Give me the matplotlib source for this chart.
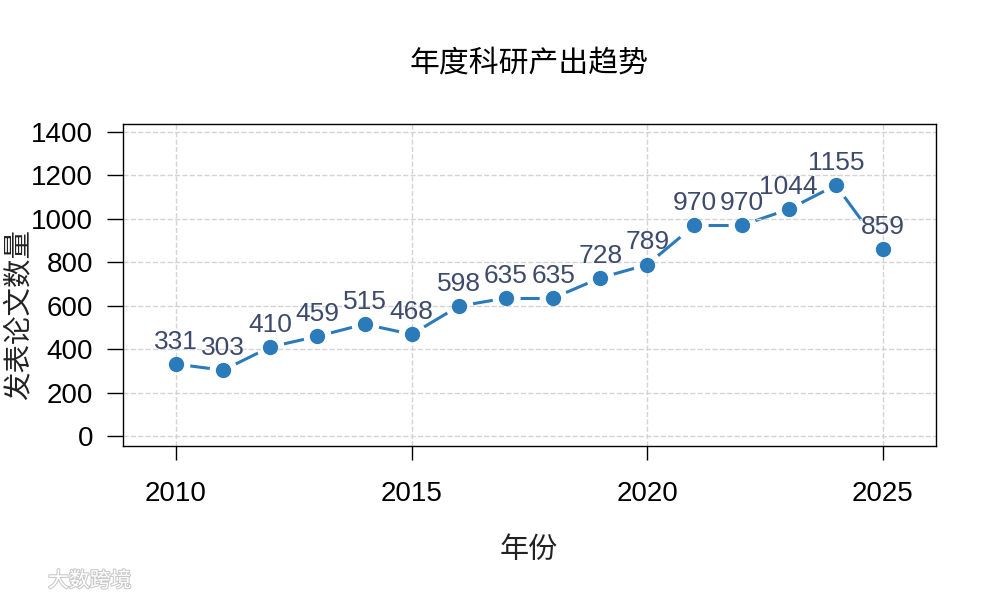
import matplotlib
matplotlib.use('Agg')
import matplotlib.pyplot as plt
import matplotlib.patheffects as pe

plt.rcParams['font.family'] = ['Liberation Sans', 'Noto Sans CJK SC', 'DejaVu Sans']

# Data
years = list(range(2010, 2026))
papers = [331, 303, 410, 459, 515, 468, 598, 635, 635, 728, 789, 970, 970, 1044, 1155, 859]
x_ticks = [2010, 2015, 2020, 2025]
y_ticks = [0, 200, 400, 600, 800, 1000, 1200, 1400]

line_color = '#2b7bba'
label_color = '#3d4a6b'

fig = plt.figure(figsize=(10, 6), dpi=100)
ax = fig.add_axes([0.123, 0.2567, 0.813, 0.5367])

# Dashed segments restarting at each point (like R type="b", lty=2)
lw = 2.2
gap = 10.0      # pt hidden around each point
on, off = 21.0, 40.0
dash = (( on + off - gap) / lw, (on / lw, off / lw))
for i in range(len(years) - 1):
    ax.plot(years[i:i + 2], papers[i:i + 2], color=line_color, linewidth=lw,
            linestyle=dash, solid_capstyle='butt', zorder=2)

# White ring leaves the gap, then the filled points
ax.plot(years, papers, linestyle='none', marker='o', markersize=10,
        markerfacecolor='white', markeredgecolor='white', markeredgewidth=10, zorder=2.5)
ax.plot(years, papers, linestyle='none', marker='o', markersize=10,
        color=line_color, zorder=3)

# Value labels
for x, y in zip(years, papers):
    ax.annotate(str(y), (x, y), xytext=(0, 16), textcoords='offset points',
                ha='center', va='center', fontsize=19, color=label_color, zorder=5)

ax.set_xlim(2008.875, 2026.125)
ax.set_ylim(-46, 1437)
ax.set_xticks(x_ticks)
ax.set_yticks(y_ticks)
ax.tick_params(axis='y', length=11.5, width=1, pad=10, labelsize=20)
ax.tick_params(axis='x', length=10, width=1, pad=15, labelsize=20)

# Grid drawn on top of the points
ax.grid(True, color='#d3d3d3', linestyle='--', linewidth=1, zorder=4)
ax.set_axisbelow(False)
for s in ax.spines.values():
    s.set_linewidth(1)
    s.set_zorder(6)

fig.text(0.529, 0.895, '年度科研产出趋势', ha='center', va='center',
         fontsize=21.5, family=['Noto Sans CJK SC'], weight='medium')
fig.text(0.529, 0.083, '年份', ha='center', va='center', fontsize=21,
         family=['Noto Sans CJK SC'], color='#222222')
fig.text(0.019, 0.475, '发表论文数量', ha='center', va='center', rotation=90,
         fontsize=20.5, family=['Noto Sans CJK SC'], color='#222222')

# Watermark
fig.text(0.048, 0.032, '大数跨境', ha='left', va='center', fontsize=15,
         family=['Noto Sans CJK SC'], color='white',
         path_effects=[pe.withStroke(linewidth=1.5, foreground='#c8c8c8')])

fig.savefig('out.png', dpi=100)
